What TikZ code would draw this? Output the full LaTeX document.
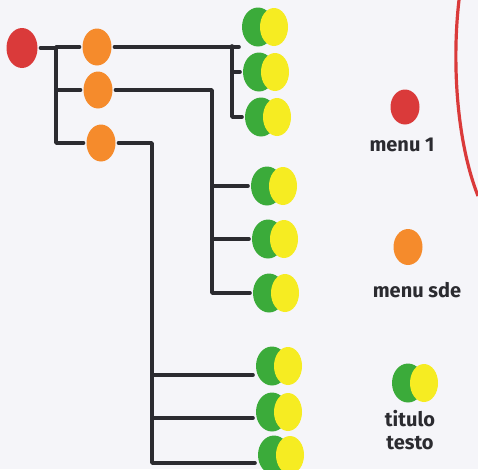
\documentclass[tikz,border=0pt]{standalone}
\usepackage{fontspec}
\setmainfont{Fira Sans}
\usepackage{tikz}
\usetikzlibrary{shapes.geometric, positioning}
\definecolor{menured}{HTML}{DA3A3A}
\definecolor{menuorange}{HTML}{F58B2C}
\definecolor{leafgreen}{HTML}{3BAB3A}
\definecolor{leafyellow}{HTML}{F6EC22}
\definecolor{inkgray}{HTML}{2B2B30}
\definecolor{paper}{HTML}{F5F5F9}

% one title/text item: green blob with the yellow one laid over it
\newcommand{\leaf}[2]{%
  \node[dot=leafgreen, minimum width=32, minimum height=39] (#1) at (#2) {};
  \node[dot=leafyellow, minimum width=28, minimum height=38, xshift=16pt] (#1y) at (#2) {};}

\begin{document}
\begin{tikzpicture}[x=1pt, y=-1pt,
    dot/.style={ellipse, fill=#1, draw=none, inner sep=0pt, outer sep=3pt},
    link/.style={draw=inkgray, line width=3.6pt, line cap=round, line join=round},
    note/.style={font=\fontsize{20}{23}\selectfont\bfseries, color=inkgray, inner sep=0pt}
]
\fill[paper] (0,0) rectangle (478,469);
\useasboundingbox (0,0) rectangle (478,469);
\clip (0,0) rectangle (478,469);

% Root menu and side menus
\node[dot=menured, minimum width=31, minimum height=40] (root) at (22,48) {};
\node[dot=menuorange, minimum width=29, minimum height=37] (side1) at (97,47) {};
\node[dot=menuorange, minimum width=29, minimum height=37] (side2) at (98,90) {};
\node[dot=menuorange, minimum width=29, minimum height=37] (side3) at (101,143) {};
\coordinate (rb) at (56,48);

% Items under each side menu
\leaf{a1}{258,27}
\leaf{a2}{259,72}
\leaf{a3}{261,117}
\leaf{b1}{267,186}
\leaf{b2}{268,239}
\leaf{b3}{269,293}
\leaf{c1}{272,366}
\leaf{c2}{272,412}
\leaf{c3}{274,455}
\coordinate (ja) at (232,46);
\coordinate (jb) at (212,90);
\coordinate (jc) at (152,143);
\coordinate (c1t) at ([yshift=-9pt]c1.west);
\coordinate (c2t) at ([yshift=-6pt]c2.west);
\coordinate (c3t) at ([yshift=-8pt]c3.west);

% Root to side menus
\draw[link] (root.east) -- (rb);
\draw[link] (side1.west) -| (rb) |- (side3.west);
\draw[link] (side2.west) -- (side2.west -| rb);

% Side menu 1
\draw[link] (side1.east) -- (side1.east -| a1.west);
\draw[link] (ja) |- (a3.west);
\draw[link] (ja |- a2.west) -- (a2.west);

% Side menu 2
\draw[link] (side2.east) -- (jb) |- (b3.west);
\draw[link] (jb |- b1.west) -- (b1.west);
\draw[link] (jb |- b2.west) -- (b2.west);

% Side menu 3
\draw[link] (side3.east) -- (jc) |- (c3t);
\draw[link] (jc |- c1t) -- (c1t);
\draw[link] (jc |- c2t) -- (c2t);

% Legend
\node[dot=menured, minimum width=29, minimum height=35] (key1) at (405,107) {};
\node[note] (key1t) at (402,145) {menu 1};
\node[dot=menuorange, minimum width=29, minimum height=36] (key2) at (408,247) {};
\node[note] (key2t) at (417,290) {menu sde};
\leaf{key3}{408,383}
\node[note, align=center] (key3t) at (410,430) {titulo\\testo};

% Border of the next panel
\draw[menured, line width=3.2pt] (459,0) .. controls (452,60) and (456,140) .. (478,196);
\end{tikzpicture}
\end{document}
